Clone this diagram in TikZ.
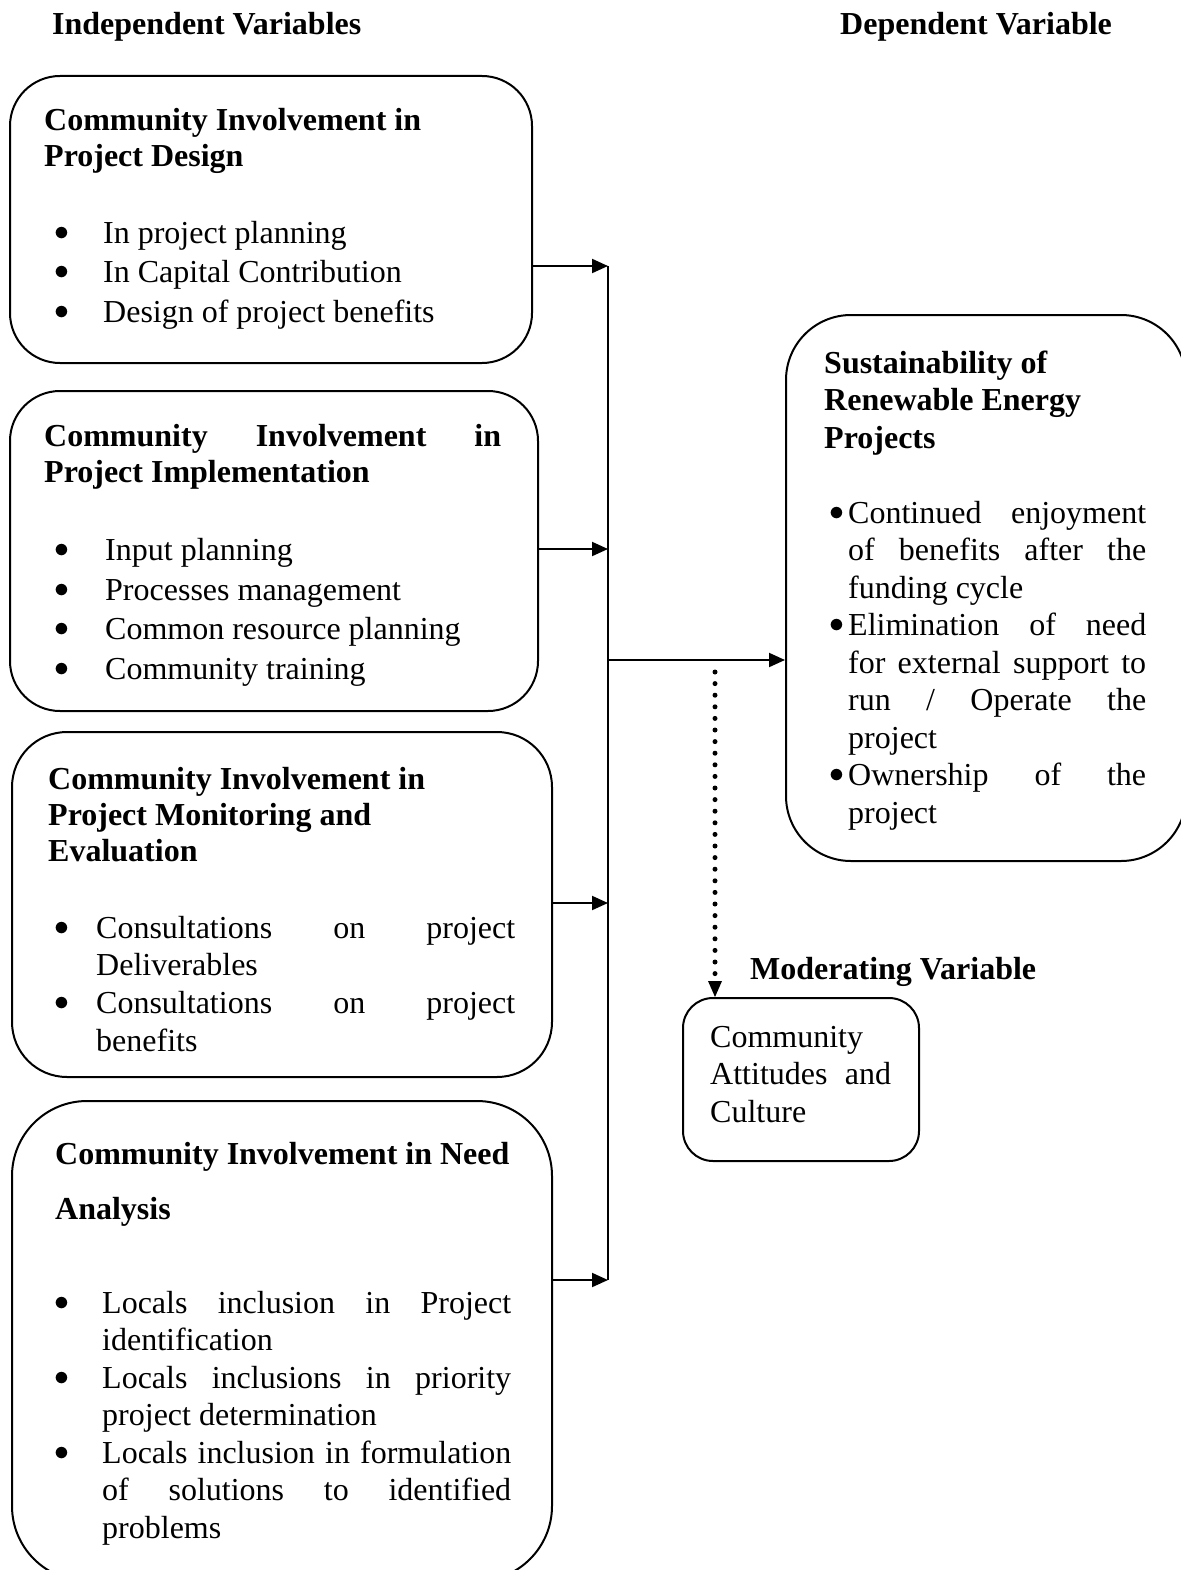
\documentclass[tikz,border=0pt]{standalone}
\usepackage{fontspec}
\setmainfont{Liberation Serif}
\usetikzlibrary{arrows.meta}

\newlength\bind
\newlength\bpos
\newcommand{\bitem}[1]{\par\noindent\hangindent=\bind\hangafter=1\makebox[\bind][l]{\hspace{\bpos}\raisebox{3pt}{\scalebox{1.2}{$\bullet$}}}\ignorespaces#1}

\begin{document}
\begin{tikzpicture}[x=1pt, y=-1pt,
    every node/.append style={font=\fontsize{32}{37.5}\selectfont},
    box/.style={draw, line width=2pt, rounded corners=#1, anchor=north west, inner sep=0pt},
    txt/.style={anchor=base west, inner sep=0pt, align=justify},
    title/.style={anchor=base west, inner sep=0pt, font=\fontsize{32}{37.5}\selectfont\bfseries},
    conn/.style={line width=2pt, -{Triangle[length=16pt,width=14pt]}},
    dotconn/.style={line width=5pt, line cap=round, dash pattern=on 0pt off 11.6pt,
      -{Triangle[length=16pt,width=14pt,line width=0pt]}}]
  \useasboundingbox (0,0) rectangle (1180,1570);

  % Headings
  \node[title] (indep) at (52,35) {Independent Variables};
  \node[title] (dep) at (840,35) {Dependent Variable};
  \node[title] (modv) at (750,979) {Moderating Variable};

  % Boxes
  \node[box=50pt, minimum width=522pt, minimum height=287pt] (b1) at (9,75) {};
  \node[box=50pt, minimum width=528pt, minimum height=320pt] (b2) at (9,390) {};
  \node[box=55pt, minimum width=540pt, minimum height=345pt] (b3) at (11,731) {};
  \node[box=75pt, minimum width=540pt, minimum height=480pt] (b4) at (11,1100) {};
  \node[box=65pt, minimum width=400pt, minimum height=546pt] (dv) at (785,314) {};
  \node[box=30pt, minimum width=236pt, minimum height=163pt] (mod) at (682,997) {};

  % Box texts
  \node[txt, text width=452pt] (t1) at (44,131) {\setlength\bind{59pt}\setlength\bpos{10pt}%
    {\bfseries\fontsize{32}{36}\selectfont Community Involvement in\\ Project Design\par}%
    \vspace{37pt}\fontsize{32}{39.5}\selectfont
    \bitem{In project planning}
    \bitem{In Capital Contribution}
    \bitem{Design of project benefits}\par};
  \node[txt, text width=457pt] (t2) at (44,446) {\setlength\bind{61pt}\setlength\bpos{10pt}%
    {\bfseries\fontsize{32}{36}\selectfont Community Involvement in\linebreak Project Implementation\par}%
    \vspace{39pt}\fontsize{32}{39.5}\selectfont
    \bitem{Input planning}
    \bitem{Processes management}
    \bitem{Common resource planning}
    \bitem{Community training}\par};
  \node[txt, text width=467pt] (t3) at (48,789) {\setlength\bind{48pt}\setlength\bpos{6pt}%
    {\bfseries\fontsize{32}{36}\selectfont Community Involvement in\\ Project Monitoring and\\ Evaluation\par}%
    \vspace{39.3pt}\fontsize{32}{37.7}\selectfont
    \bitem{Consultations on project\linebreak Deliverables}
    \bitem{Consultations on project\linebreak benefits}\par};
  \node[txt, text width=456pt] (t4) at (55,1164) {\setlength\bind{47pt}\setlength\bpos{-1pt}%
    {\bfseries\fontsize{32}{55}\selectfont Community Involvement in Need\\ Analysis\par}%
    \vspace{56.5pt}\fontsize{32}{37.5}\selectfont
    \bitem{Locals inclusion in Project\linebreak identification}
    \bitem{Locals inclusions in priority\linebreak project determination}
    \bitem{Locals inclusion in formulation\linebreak of solutions to identified\linebreak problems}\par};
  \node[txt, text width=322pt] (t5) at (824,373) {\setlength\bind{24pt}\setlength\bpos{5pt}%
    {\bfseries Sustainability of\\ Renewable Energy\\ Projects\par}%
    \vspace{37.5pt}%
    \bitem{Continued enjoyment\linebreak of benefits after the\linebreak funding cycle}
    \bitem{Elimination of need\linebreak for external support to\linebreak run / Operate the\linebreak project}
    \bitem{Ownership of the\linebreak project}\par};
  \node[txt, text width=181pt] (t6) at (710,1047) {Community\\ Attitudes and\linebreak Culture};

  % Connectors
  \coordinate (j1) at (608,266);
  \coordinate (j2) at (608,549);
  \coordinate (j3) at (608,903);
  \coordinate (j4) at (608,1280);
  \coordinate (jm) at (608,660);
  \coordinate (mv) at (715,672);
  \draw[line width=2pt] (j1) -- (j4);
  \draw[conn] (b1.east |- j1) -- (j1);
  \draw[conn] (b2.east |- j2) -- (j2);
  \draw[conn] (b3.east |- j3) -- (j3);
  \draw[conn] (b4.east |- j4) -- (j4);
  \draw[conn] (jm) -- (jm -| dv.west);
  \draw[dotconn] (mv) -- (mv |- mod.north);
\end{tikzpicture}
\end{document}
